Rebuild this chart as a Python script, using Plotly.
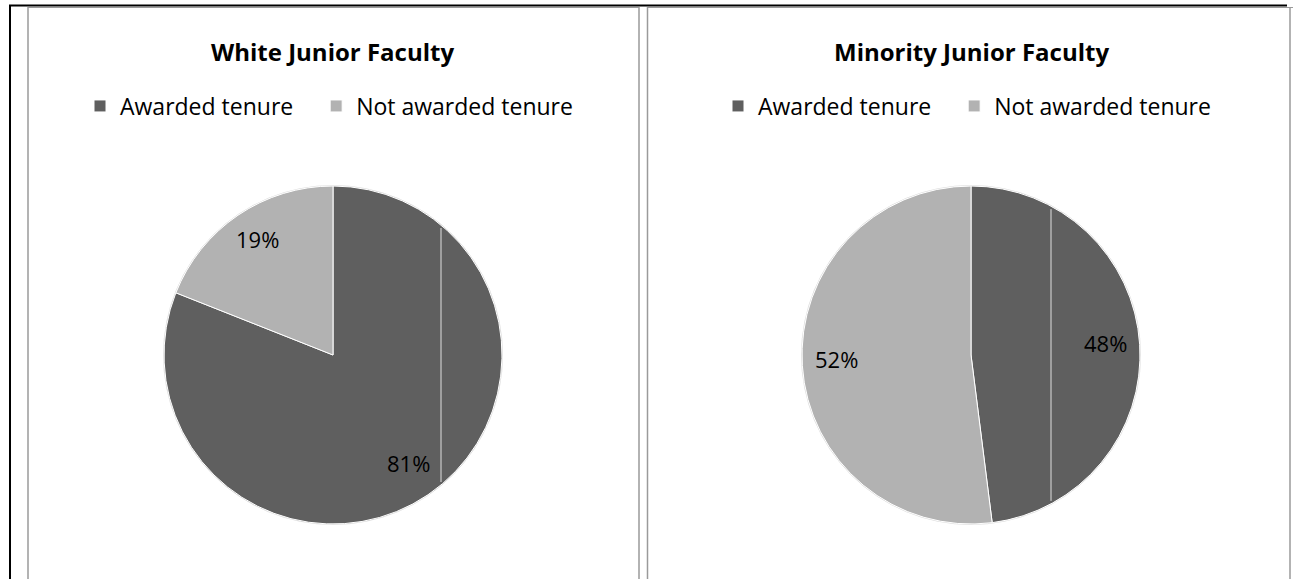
import math
import plotly.graph_objects as go

W, H = 1293, 579

labels = ["Awarded tenure", "Not awarded tenure"]
white_values = [81, 19]
minority_values = [48, 52]
titles = ["White Junior Faculty", "Minority Junior Faculty"]
colors = ["#5f5f5f", "#b2b2b2"]

FONT = "Open Sans"

def px(x):
    return x / W

def py(y):
    return 1 - y / H

R = 169
centers = [(333, 355), (971, 355)]

fig = go.Figure()
for i, (vals, (cx, cy)) in enumerate(zip([white_values, minority_values], centers)):
    # pad first entry so legend spacing matches; second pie gets distinct keys for its own legend
    suffix = "" if i == 0 else "\u200b"
    lab = [labels[0] + "\u00a0\u00a0\u00a0" + suffix, labels[1] + suffix]
    fig.add_trace(go.Pie(
        labels=lab, values=vals, sort=False, direction="clockwise", rotation=0,
        marker=dict(colors=colors, line=dict(color="white", width=1)),
        textinfo="none",
        domain=dict(x=[px(cx - R), px(cx + R)], y=[py(cy + R), py(cy - R)]),
        legend="legend" if i == 0 else "legend2",
        hoverinfo="label+percent",
    ))
    fig.add_annotation(text="<b>" + titles[i] + "</b>", x=px(cx), y=py(52),
                       xref="paper", yref="paper", showarrow=False,
                       font=dict(family=FONT, size=24, color="black"),
                       xanchor="center", yanchor="middle")
    # percentage labels placed at the middle angle of each slice
    total = sum(vals)
    cum = 0
    for v in vals:
        mid = (cum + v / 2) / total * 2 * math.pi
        cum += v
        rr = 0.80 * R
        lx = cx + rr * math.sin(mid)
        ly = cy - rr * math.cos(mid) - 4
        fig.add_annotation(text=f"{round(100 * v / total)}%", x=px(lx), y=py(ly),
                           xref="paper", yref="paper", showarrow=False,
                           font=dict(family=FONT, size=22, color="black"),
                           xanchor="center", yanchor="middle")

legend_common = dict(orientation="h", font=dict(family=FONT, size=23, color="black"),
                     yanchor="middle", xanchor="left", bgcolor="rgba(0,0,0,0)",
                     itemclick=False)
fig.update_layout(
    legend=dict(x=px(80), y=py(106), **legend_common),
    legend2=dict(x=px(718), y=py(106), **legend_common),
)

shapes = []
# outer black border
shapes.append(dict(type="line", x0=px(9), x1=px(1287), y0=py(5.5), y1=py(5.5), line=dict(color="black", width=2)))
shapes.append(dict(type="line", x0=px(10), x1=px(10), y0=py(5), y1=py(H + 2), line=dict(color="black", width=2)))
# gray panel borders
gray = "#9a9a9a"
for x in [28, 639, 647.5, 1290]:
    shapes.append(dict(type="line", x0=px(x), x1=px(x), y0=py(7), y1=py(H + 2), line=dict(color=gray, width=1.5)))
shapes.append(dict(type="line", x0=px(28), x1=px(639), y0=py(7.5), y1=py(7.5), line=dict(color=gray, width=1)))
shapes.append(dict(type="line", x0=px(647), x1=px(1293), y0=py(7.5), y1=py(7.5), line=dict(color=gray, width=1)))
# thin white rendering seams inside the pies
for (cx, cy), sx in zip(centers, [441, 1051]):
    half = math.sqrt(R ** 2 - (sx - cx) ** 2)
    shapes.append(dict(type="line", x0=px(sx), x1=px(sx), y0=py(cy - half + 3), y1=py(cy + half - 3),
                       line=dict(color="rgba(255,255,255,0.8)", width=1)))
# faint outline around each pie
for (cx, cy) in centers:
    shapes.append(dict(type="circle", x0=px(cx - R - 0.5), x1=px(cx + R + 0.5), y0=py(cy + R + 0.5), y1=py(cy - R - 0.5),
                       line=dict(color="#dcdcdc", width=1), layer="below"))

fig.update_layout(
    width=W, height=H, margin=dict(l=0, r=0, t=0, b=0),
    paper_bgcolor="white", plot_bgcolor="white",
    shapes=shapes,
)

fig.write_html("out.html", config={"displayModeBar": False},
               post_script="document.body.style.margin='0';document.body.style.overflow='hidden';")
